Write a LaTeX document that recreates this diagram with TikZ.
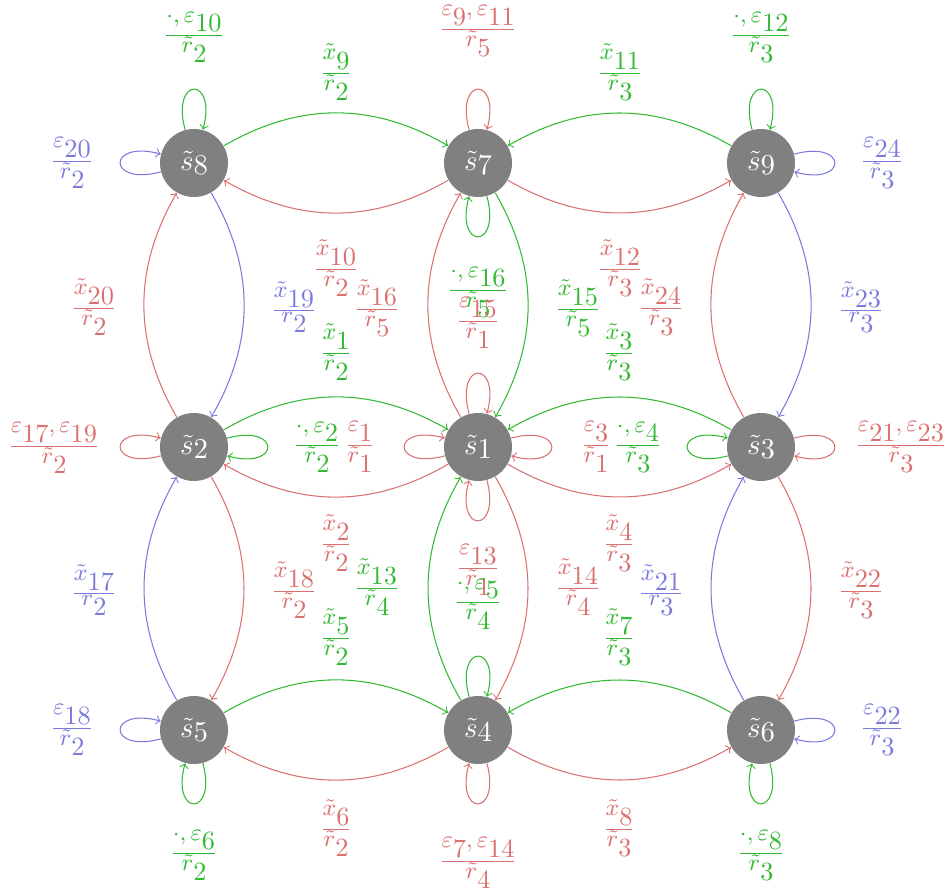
\documentclass[tikz,border=0pt]{standalone}
\usepackage{amsmath}
\definecolor{cg}{RGB}{50,185,50}
\definecolor{cr}{RGB}{218,112,112}
\definecolor{cb}{RGB}{122,122,222}
\newcommand\sm[1]{\raisebox{0.85ex}{\small$#1$}}
\newcommand\lab[2]{$\frac{\textstyle #1}{\textstyle #2}$}
\newcommand\st[1]{{\fontsize{11}{13}\selectfont$\tilde{s}\raisebox{-0.35ex}{$#1$}$}}
\tikzset{
  state/.style={circle,fill=black!50,text=white,minimum size=25.84pt,inner sep=0pt},
  lb/.style={inner sep=0pt},
  eg/.style={->,cg},
  er/.style={->,cr},
  eb/.style={->,cb},
}
\begin{document}
\begin{tikzpicture}[x=0.38pt,y=0.38pt]
\useasboundingbox (0,0) rectangle (946,890);
% states
\node[state] (s8) at (194,727) {\st{8}};
\node[state] (s7) at (478,727) {\st{7}};
\node[state] (s9) at (761,727) {\st{9}};
\node[state] (s2) at (194,443) {\st{2}};
\node[state] (s1) at (478,443) {\st{1}};
\node[state] (s3) at (761,443) {\st{3}};
\node[state] (s5) at (194,160) {\st{5}};
\node[state] (s4) at (478,160) {\st{4}};
\node[state] (s6) at (761,160) {\st{6}};
% horizontal edges
\draw[eg] (s8) to[bend left=30] (s7);
\draw[er] (s7) to[bend left=30] (s8);
\draw[eg] (s9) to[bend right=30] (s7);
\draw[er] (s7) to[bend right=30] (s9);
\draw[eg] (s2) to[bend left=30] (s1);
\draw[er] (s1) to[bend left=30] (s2);
\draw[eg] (s3) to[bend right=30] (s1);
\draw[er] (s1) to[bend right=30] (s3);
\draw[eg] (s5) to[bend left=30] (s4);
\draw[er] (s4) to[bend left=30] (s5);
\draw[eg] (s6) to[bend right=30] (s4);
\draw[er] (s4) to[bend right=30] (s6);
% vertical edges
\draw[er] (s2) to[bend left=30] (s8);
\draw[eb] (s8) to[bend left=30] (s2);
\draw[eb] (s5) to[bend left=30] (s2);
\draw[er] (s2) to[bend left=30] (s5);
\draw[er] (s1) to[bend left=30] (s7);
\draw[eg] (s7) to[bend left=30] (s1);
\draw[eg] (s4) to[bend left=30] (s1);
\draw[er] (s1) to[bend left=30] (s4);
\draw[er] (s3) to[bend left=30] (s9);
\draw[eb] (s9) to[bend left=30] (s3);
\draw[eb] (s6) to[bend left=30] (s3);
\draw[er] (s3) to[bend left=30] (s6);
% loops
\draw[eg] (s8) to[loop above] (s8);
\draw[eb] (s8) to[loop left] (s8);
\draw[er] (s7) to[loop above] (s7);
\draw[eg] (s7) to[loop below] (s7);
\draw[eg] (s9) to[loop above] (s9);
\draw[eb] (s9) to[loop right] (s9);
\draw[er] (s2) to[loop left] (s2);
\draw[eg] (s2) to[loop right] (s2);
\draw[er] (s1) to[loop above] (s1);
\draw[er] (s1) to[loop left] (s1);
\draw[er] (s1) to[loop right] (s1);
\draw[er] (s1) to[loop below] (s1);
\draw[eg] (s3) to[loop left] (s3);
\draw[er] (s3) to[loop right] (s3);
\draw[eb] (s5) to[loop left] (s5);
\draw[eg] (s5) to[loop below] (s5);
\draw[eg] (s4) to[loop above] (s4);
\draw[er] (s4) to[loop below] (s4);
\draw[eb] (s6) to[loop right] (s6);
\draw[eg] (s6) to[loop below] (s6);
% labels
\node[lb,cg] (e10) at (194,853) {\lab{\sm{\cdot,\varepsilon}10}{\sm{\tilde{r}}2}};
\node[lb,cr] (e9) at (478,859) {\lab{\sm{\varepsilon}9\sm{,\varepsilon}11}{\sm{\tilde{r}}5}};
\node[lb,cg] (e12) at (761,853) {\lab{\sm{\cdot,\varepsilon}12}{\sm{\tilde{r}}3}};
\node[lb,cb] (e20) at (72,727) {\lab{\sm{\varepsilon}20}{\sm{\tilde{r}}2}};
\node[lb,cb] (e24) at (882,727) {\lab{\sm{\varepsilon}24}{\sm{\tilde{r}}3}};
\node[lb,cg] (x9) at (336,818) {\lab{\sm{\tilde{x}}9}{\sm{\tilde{r}}2}};
\node[lb,cg] (x11) at (620,818) {\lab{\sm{\tilde{x}}11}{\sm{\tilde{r}}3}};
\node[lb,cr] (x10) at (336,622) {\lab{\sm{\tilde{x}}10}{\sm{\tilde{r}}2}};
\node[lb,cr] (x12) at (620,622) {\lab{\sm{\tilde{x}}12}{\sm{\tilde{r}}3}};
\node[lb,cg] (e16) at (478,598) {\lab{\sm{\cdot,\varepsilon}16}{\sm{\tilde{r}}5}};
\node[lb,cr] (e15) at (478,567) {\lab{\sm{\varepsilon}15}{\sm{\tilde{r}}1}};
\node[lb,cr] (x16) at (377,582) {\lab{\sm{\tilde{x}}16}{\sm{\tilde{r}}5}};
\node[lb,cg] (x15) at (578,582) {\lab{\sm{\tilde{x}}15}{\sm{\tilde{r}}5}};
\node[lb,cb] (x19) at (294,583) {\lab{\sm{\tilde{x}}19}{\sm{r}2}};
\node[lb,cr] (x20) at (94,583) {\lab{\sm{\tilde{x}}20}{\sm{\tilde{r}}2}};
\node[lb,cr] (x24) at (661,583) {\lab{\sm{\tilde{x}}24}{\sm{\tilde{r}}3}};
\node[lb,cb] (x23) at (861,583) {\lab{\sm{\tilde{x}}23}{\sm{r}3}};
\node[lb,cg] (x1) at (336,538) {\lab{\sm{\tilde{x}}1}{\sm{\tilde{r}}2}};
\node[lb,cg] (x3) at (619,538) {\lab{\sm{\tilde{x}}3}{\sm{\tilde{r}}3}};
\node[lb,cr] (e17) at (54,442) {\lab{\sm{\varepsilon}17\sm{,\varepsilon}19}{\sm{\tilde{r}}2}};
\node[lb,cg] (e2) at (317,443) {\lab{\sm{\cdot,\varepsilon}2}{\sm{\tilde{r}}2}};
\node[lb,cr] (e1) at (360,443) {\lab{\sm{\varepsilon}1}{\sm{\tilde{r}}1}};
\node[lb,cr] (e3) at (596,443) {\lab{\sm{\varepsilon}3}{\sm{\tilde{r}}1}};
\node[lb,cg] (e4) at (638,443) {\lab{\sm{\cdot,\varepsilon}4}{\sm{\tilde{r}}3}};
\node[lb,cr] (e21) at (901,443) {\lab{\sm{\varepsilon}21\sm{,\varepsilon}23}{\sm{\tilde{r}}3}};
\node[lb,cr] (x2) at (336,347) {\lab{\sm{\tilde{x}}2}{\sm{\tilde{r}}2}};
\node[lb,cr] (x4) at (619,347) {\lab{\sm{\tilde{x}}4}{\sm{\tilde{r}}3}};
\node[lb,cr] (e13) at (478,320) {\lab{\sm{\varepsilon}13}{\sm{\tilde{r}}1}};
\node[lb,cg] (e5) at (478,286) {\lab{\sm{\cdot,\varepsilon}5}{\sm{\tilde{r}}4}};
\node[lb,cg] (x13) at (377,303) {\lab{\sm{\tilde{x}}13}{\sm{\tilde{r}}4}};
\node[lb,cr] (x14) at (578,303) {\lab{\sm{\tilde{x}}14}{\sm{\tilde{r}}4}};
\node[lb,cb] (x17) at (94,300) {\lab{\sm{\tilde{x}}17}{\sm{r}2}};
\node[lb,cr] (x18) at (294,300) {\lab{\sm{\tilde{x}}18}{\sm{\tilde{r}}2}};
\node[lb,cb] (x21) at (661,300) {\lab{\sm{\tilde{x}}21}{\sm{r}3}};
\node[lb,cr] (x22) at (861,300) {\lab{\sm{\tilde{x}}22}{\sm{\tilde{r}}3}};
\node[lb,cg] (x5) at (336,253) {\lab{\sm{\tilde{x}}5}{\sm{\tilde{r}}2}};
\node[lb,cg] (x7) at (619,253) {\lab{\sm{\tilde{x}}7}{\sm{\tilde{r}}3}};
\node[lb,cb] (e18) at (72,160) {\lab{\sm{\varepsilon}18}{\sm{\tilde{r}}2}};
\node[lb,cb] (e22) at (882,160) {\lab{\sm{\varepsilon}22}{\sm{\tilde{r}}3}};
\node[lb,cr] (x6) at (336,62) {\lab{\sm{\tilde{x}}6}{\sm{\tilde{r}}2}};
\node[lb,cr] (x8) at (619,62) {\lab{\sm{\tilde{x}}8}{\sm{\tilde{r}}3}};
\node[lb,cr] (e7) at (478,27) {\lab{\sm{\varepsilon}7\sm{,\varepsilon}14}{\sm{\tilde{r}}4}};
\node[lb,cg] (e6) at (194,35) {\lab{\sm{\cdot,\varepsilon}6}{\sm{\tilde{r}}2}};
\node[lb,cg] (e8) at (761,35) {\lab{\sm{\cdot,\varepsilon}8}{\sm{\tilde{r}}3}};
\end{tikzpicture}
\end{document}
